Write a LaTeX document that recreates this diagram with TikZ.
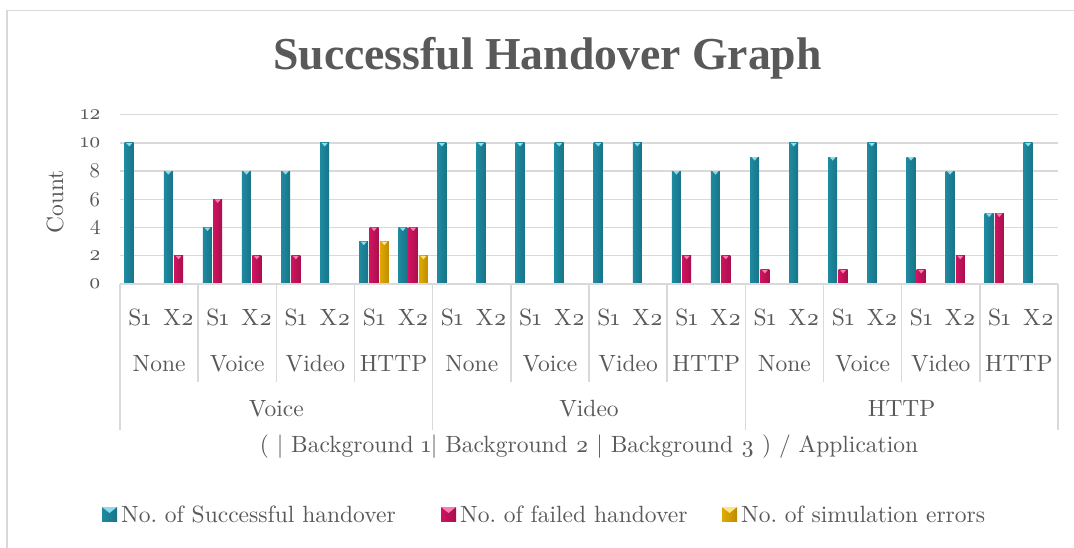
\documentclass[tikz,border=0pt]{standalone}
\usepackage{fontspec}
\setmainfont{lmroman10-regular}[Extension=.otf, BoldFont=lmroman10-bold, Numbers=OldStyle]
\newfontfamily\titlefont{Liberation Serif}
\frenchspacing
\definecolor{ink}{HTML}{595959}
\definecolor{rule}{HTML}{D9D9D9}
% bar colours: left edge, middle, right edge, top highlight
\definecolor{tealL}{HTML}{1E8AA0}
\definecolor{tealM}{HTML}{3CB5CC}
\definecolor{tealR}{HTML}{187488}
\definecolor{tealH}{HTML}{8ADDEB}
\definecolor{pinkL}{HTML}{D0135F}
\definecolor{pinkM}{HTML}{F23A86}
\definecolor{pinkR}{HTML}{A80F4E}
\definecolor{pinkH}{HTML}{F87FB0}
\definecolor{goldL}{HTML}{E0AA00}
\definecolor{goldM}{HTML}{FFD040}
\definecolor{goldR}{HTML}{C08C00}
\definecolor{goldH}{HTML}{FFE58A}
% one cylinder-like bar: centre x, value, colour prefix
\newcommand\drawbar[3]{%
  \pgfmathsetmacro\bx{#1}%
  \pgfmathsetmacro\by{284-#2*14.1}%
  \shade[left color=#3L, middle color=#3M, right color=#3R]
    (\bx-4.5,284) rectangle (\bx+4.5,\by);
  \fill[#3H] (\bx-3,\by) -- (\bx+3,\by) -- (\bx,\by+3.5) -- cycle;}
\begin{document}
\begin{tikzpicture}[x=1pt,y=-1pt,
  txt/.style={text=ink, font=\fontsize{23.5}{28}\selectfont, inner sep=0pt},
  grid/.style={draw=rule, line width=1.4pt},
  sep/.style={draw=rule, line width=1.4pt}]
\useasboundingbox (0,0) rectangle (1074,548);
\fill[white] (0,0) rectangle (1074,548);
% chart frame
\draw[rule, line width=1.5pt] (7,548) -- (7,10.5) -- (1074,10.5);

% title
\node[anchor=base, text=ink, inner sep=0pt, font=\titlefont\bfseries\fontsize{45.7}{50}\selectfont] (title) at (547.5,70) {Successful Handover Graph};

% horizontal grid and value labels
\foreach \v in {2,4,...,12}
  \draw[grid] (120,284-\v*14.1) -- (1058,284-\v*14.1);
\foreach \v in {0,2,...,12}
  \node[txt, anchor=east, font=\fontsize{21}{25}\selectfont] (tick\v) at (101,284-\v*14.1) {\v};
\node[txt, rotate=90] (ylabel) at (55,202) {Count};

% bars: index / successful / failed / simulation errors
\foreach \i/\s/\f/\e in {0/10/0/0, 1/8/2/0, 2/4/6/0, 3/8/2/0, 4/8/2/0, 5/10/0/0,
    6/3/4/3, 7/4/4/2, 8/10/0/0, 9/10/0/0, 10/10/0/0, 11/10/0/0, 12/10/0/0,
    13/10/0/0, 14/8/2/0, 15/8/2/0, 16/9/1/0, 17/10/0/0, 18/9/1/0, 19/10/0/0,
    20/9/1/0, 21/8/2/0, 22/5/5/0, 23/10/0/0}{
  \pgfmathsetmacro\cx{120+(\i+0.5)*39.0833}
  \ifnum\s>0 \drawbar{\cx-10.3}{\s}{teal}\fi
  \ifnum\f>0 \drawbar{\cx}{\f}{pink}\fi
  \ifnum\e>0 \drawbar{\cx+10.3}{\e}{gold}\fi
}

% category axis
\draw[sep, line width=2pt] (120,284) -- (1058,284);
\foreach \k in {1,2,3,5,6,7,9,10,11}
  \draw[sep] (120+\k*78.1667,284) -- (120+\k*78.1667,382);
\foreach \k in {0,4,8,12}
  \draw[sep] (120+\k*78.1667,284) -- (120+\k*78.1667,430);

% S1 / X2 labels
\foreach \k in {0,...,11}{
  \node[txt, anchor=base] (s\k) at (120+\k*78.1667+19.54,325) {S1};
  \node[txt, anchor=base] (x\k) at (120+\k*78.1667+58.63,325) {X2};
}
% background traffic labels
\foreach \k/\t in {0/None,1/Voice,2/Video,3/HTTP,4/None,5/Voice,6/Video,7/HTTP,
    8/None,9/Voice,10/Video,11/HTTP}
  \node[txt, anchor=base] (bg\k) at (120+\k*78.1667+39.08,371) {\t};
% application labels
\foreach \g/\t in {0/Voice,1/Video,2/HTTP}
  \node[txt, anchor=base] (app\g) at (120+\g*312.667+156.33,416) {\t};
% axis title
\node[txt, anchor=base] (xlabel) at (589,452) {( | Background 1| Background 2 | Background 3 ) / Application};

% legend
\shade[left color=tealL, middle color=tealM, right color=tealR] (102,507) rectangle (117,521);
\fill[tealH] (102,507) -- (117,507) -- (109.5,513) -- cycle;
\node[txt, anchor=base west] (leg1) at (121,522) {No. of Successful handover};
\shade[left color=pinkL, middle color=pinkM, right color=pinkR] (441,507) rectangle (456,521);
\fill[pinkH] (441,507) -- (456,507) -- (448.5,513) -- cycle;
\node[txt, anchor=base west] (leg2) at (460,522) {No. of failed handover};
\shade[left color=goldL, middle color=goldM, right color=goldR] (722,507) rectangle (737,521);
\fill[goldH] (722,507) -- (737,507) -- (729.5,513) -- cycle;
\node[txt, anchor=base west] (leg3) at (741,522) {No. of simulation errors};
\end{tikzpicture}
\end{document}
